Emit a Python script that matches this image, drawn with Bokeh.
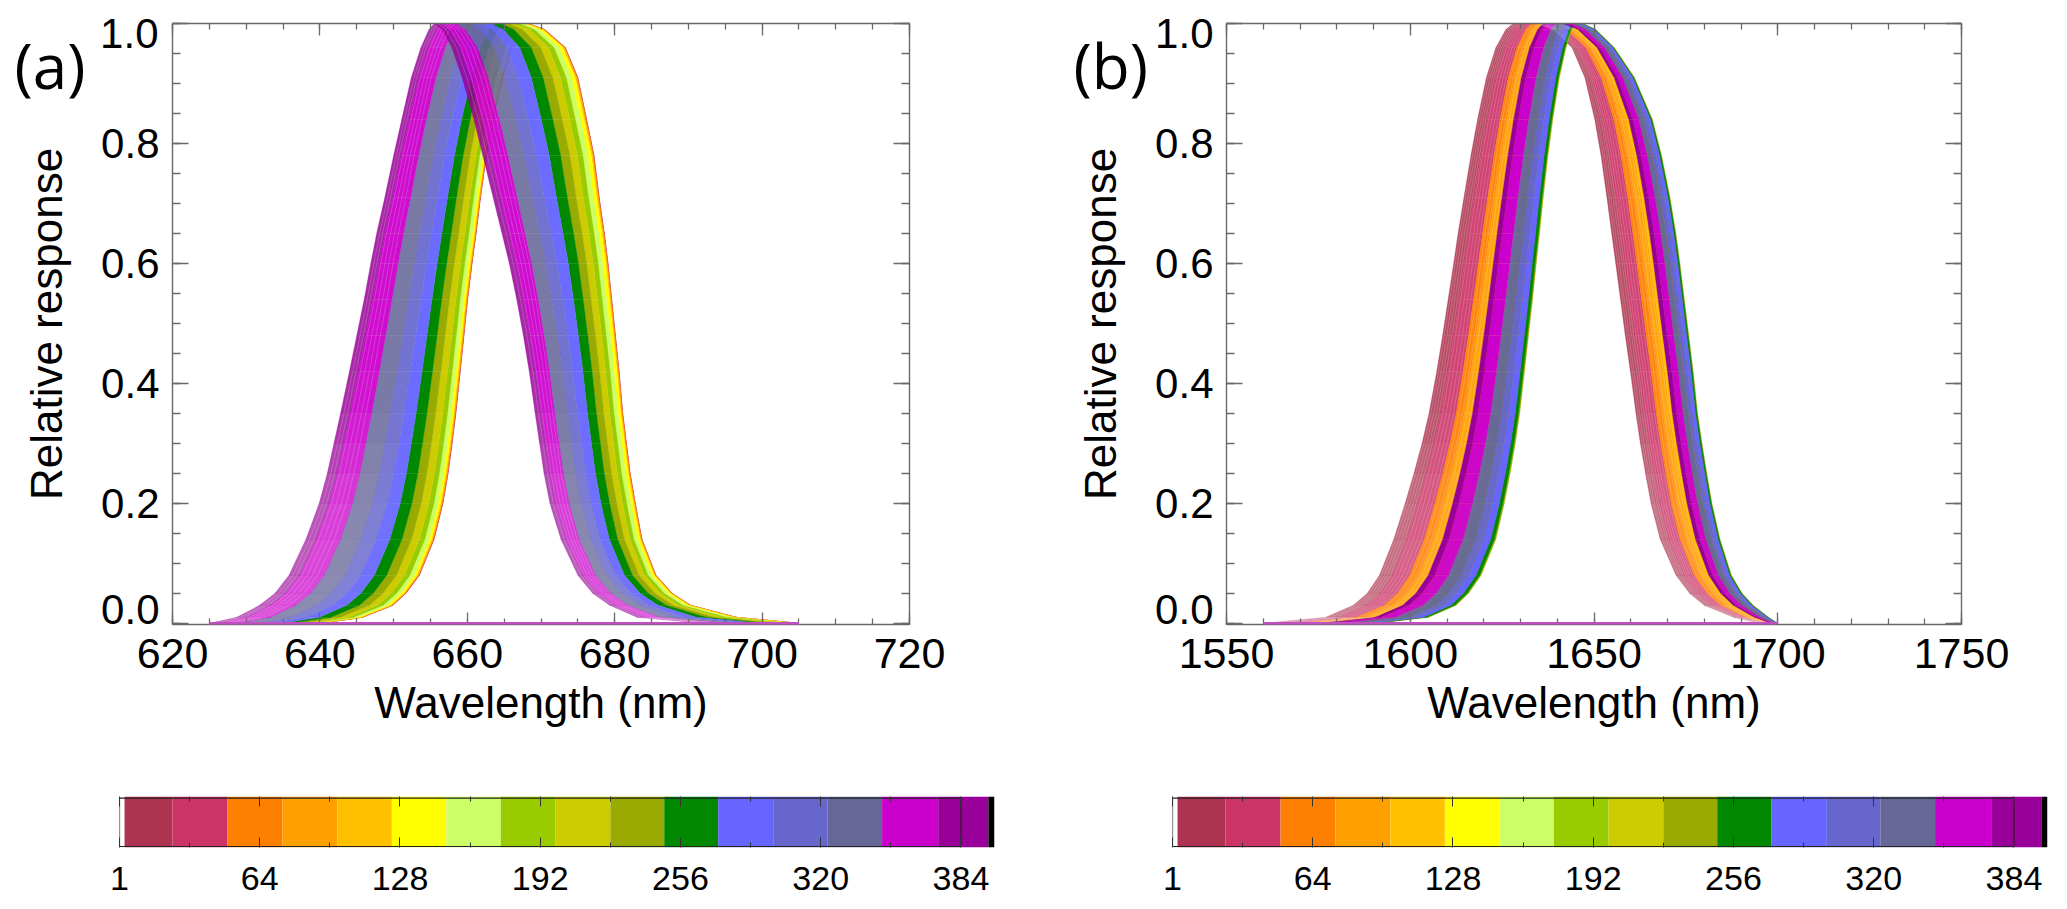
from bokeh.plotting import figure
from bokeh.models import Range1d, LinearAxis, FixedTicker, ColumnDataSource, Label
from bokeh.layouts import column, row
from bokeh.embed import file_html
from bokeh.resources import INLINE

# ---- data -----------------------------------------------------------------
levels = [0, .01, .03, .05, .08, .14, .2, .25, .3, .35, .42, .48, .54, .6, .65, .71, .78, .84, .91, .96, .99, 1]
# how densely the thin lines are packed at each level (0 = spread out, 1 = solid)
density = [0, 0, 0, .05, .1, .2, .35, .55, .75, .9, 1, 1, 1, 1, 1, 1, 1, 1, .9, .8, .7]

# Panel (a): wavelength (nm) of detector-1 curve and of last-detector curve, per response level
a_first_left = [640, 645.8, 649.9, 651.7, 653.5, 655.5, 656.7, 657.4, 657.95, 658.45, 659.05, 659.55, 660.05, 660.65, 661.2, 661.8, 662.6, 663.5, 664.8, 666, 667.3, 668.2]
a_first_right = [705, 696.5, 690.3, 687.8, 685.6, 683.7, 682.8, 682.1, 681.6, 681.1, 680.6, 680.1, 679.6, 679.1, 678.6, 677.9, 677.2, 676.2, 675, 673.3, 670.5, 668.2]
a_last_left = [625, 628.7, 631.8, 633.9, 635.8, 638.1, 639.9, 641, 641.9, 642.8, 644, 645, 646, 646.9, 647.7, 648.8, 650, 651.1, 652.4, 653.7, 654.8, 655.5]
a_last_right = [692, 683, 679.3, 677, 675, 672.7, 671.2, 670.4, 669.8, 669.2, 668.4, 667.6, 666.7, 665.7, 664.7, 663.5, 662.1, 660.9, 659.3, 657.9, 656.6, 655.5]

# Panel (b): leftmost / rightmost envelope
b_first_left = [1560, 1577, 1584.5, 1588.3, 1591.6, 1595.5, 1598.6, 1601, 1603.2, 1605.1, 1607.2, 1608.8, 1610.3, 1611.8, 1613, 1614.6, 1616.5, 1618.3, 1620.7, 1623.3, 1626, 1628]
b_first_right = [1695, 1688, 1680, 1676, 1672.3, 1668, 1665.5, 1664, 1662.6, 1661.4, 1659.9, 1658.5, 1657.2, 1655.9, 1654.8, 1653.5, 1651.9, 1650.2, 1647.5, 1644, 1638.5, 1634]
b_last_left = [1591, 1605, 1612.5, 1615.9, 1619.3, 1623.3, 1625.6, 1627.2, 1628.6, 1629.8, 1631.1, 1632.2, 1633.3, 1634.3, 1635.2, 1636.2, 1637.5, 1638.8, 1640.6, 1642.4, 1644, 1645]
b_last_right = [1700, 1697.5, 1693.3, 1690.3, 1687.4, 1684.3, 1682.1, 1680.7, 1679.4, 1678.2, 1677, 1675.8, 1674.6, 1673.4, 1672.3, 1670.7, 1668.4, 1665.9, 1661, 1655.5, 1650.5, 1647]

# Sixteen detector groups, in draw order
band_colors = ["#AE3350", "#CC3366", "#FF7F00", "#FF9F00", "#FFC000", "#FFFF00", "#CCFF66", "#99CC00", "#CCCC00", "#99AA00", "#008800", "#6666FF", "#6666CC", "#666699", "#CC00CC", "#990099"]

# Where each group sits between the first and last curve (start, end)
a_left_start = [0, .002, .004, .008, .012, .02, .04, .072, .114, .175, .25, .345, .45, .572, .73, .917]
a_left_end = [.002, .004, .008, .012, .02, .04, .072, .114, .175, .25, .345, .45, .572, .73, .917, 1]
a_right_start = [0, .002, .004, .008, .014, .024, .055, .10, .15, .217, .30, .403, .518, .632, .775, .93]
a_right_end = [.002, .004, .008, .014, .024, .055, .10, .15, .217, .30, .403, .518, .632, .775, .93, 1]

b_left_start = [0, .13, .30, .39, .48, .55, .62, .72, .82, .92, .95, .88, .80, .68, .54, .48]
b_left_end = [.13, .30, .39, .48, .55, .62, .72, .82, .92, 1, .985, .95, .88, .80, .68, .54]
b_right_start = [0, .14, .33, .44, .55, .60, .66, .74, .84, .93, .965, .91, .85, .76, .66, .59]
b_right_end = [.14, .33, .44, .55, .60, .66, .74, .84, .93, 1, .99, .965, .91, .85, .76, .66]

# Apparent density of the thin lines of each group
a_alpha_high = [1, 1, 1, 1, 1, 1, 1, 1, 1, 1, 1, .97, .92, .88, .95, .85]
a_alpha_low = [1, 1, 1, 1, 1, 1, 1, 1, 1, 1, 1, .92, .82, .75, .7, .62]
b_alpha_high = [.88, .92, .95, .95, 1, 1, 1, 1, 1, 1, 1, 1, 1, .97, 1, 1]
b_alpha_low = [.68, .76, .85, .88, 1, 1, 1, 1, 1, 1, 1, 1, .95, .95, .95, 1]

# Places where white shows between the thin lines (fraction between first and last curve)
a_gaps_left = [.78, .82, .86, .90, .94, .97]
a_gaps_right = [.80, .84, .88, .92, .96]
b_gaps_left = [.02, .05, .08, .11, .15, .19, .23, .27, .33, .37, .42, .46]
b_gaps_right = [.03, .06, .10, .13, .17, .21, .25, .30, .37, .42, .47, .52]

# Colour bar
cb_edges = [2.3, 24.2, 49.3, 74.4, 99.4, 124.3, 149.2, 174, 199, 224, 248.6, 273.2, 298.6, 323, 348, 373.6, 396.5, 399.3]
cb_colors = ["#AE3350", "#CC3366", "#FF7F00", "#FF9F00", "#FFC000", "#FFFF00", "#CCFF66", "#99CC00", "#CCCC00", "#99AA00", "#008800", "#6666FF", "#6666CC", "#666699", "#CC00CC", "#990099", "#000000"]
cb_ticks = [0, 64, 128, 192, 256, 320, 384]
cb_tick_labels = ["1", "64", "128", "192", "256", "320", "384"]

y_major = [0, .2, .4, .6, .8, 1.0]
a_x_major = [620, 640, 660, 680, 700, 720]
b_x_major = [1550, 1600, 1650, 1700, 1750]

SPINE = "#6a6a6a"
FONT = "Liberation Sans"
TOP_H = 796


def along(first, last, f):
    return [a + f * (b - a) for a, b in zip(first, last)]


def style_tick(ax, maj, mnr):
    ax.major_tick_in = maj
    ax.major_tick_out = 0
    ax.minor_tick_in = mnr
    ax.minor_tick_out = 0
    ax.major_tick_line_color = SPINE
    ax.minor_tick_line_color = SPINE
    ax.major_tick_line_width = 1.3
    ax.minor_tick_line_width = 1.3
    ax.axis_line_color = SPINE
    ax.axis_line_width = 1.4


def panel(xr, xmaj, xmin, data, gaps, zero_span, width, left, right, letter, letter_x, one_x):
    p = figure(width=width, height=TOP_H, output_backend="svg", toolbar_location=None,
               x_range=Range1d(*xr), y_range=Range1d(-0.002, 1.0),
               x_axis_type=None, y_axis_type=None,
               min_border_left=left, min_border_right=right, min_border_top=23, min_border_bottom=172)
    p.grid.visible = False
    p.outline_line_color = None
    first_l, first_r, last_l, last_r, ls, le, rs, re, ah, al = data
    for i, col in enumerate(band_colors):
        for first, last, s, e in ((first_l, last_l, ls, le), (first_r, last_r, rs, re)):
            x0 = along(first, last, s[i])
            x1 = along(first, last, e[i])
            xs, ys, alphas = [], [], []
            for k in range(len(levels) - 1):
                xs.append([x0[k], x0[k + 1], x1[k + 1], x1[k]])
                ys.append([levels[k], levels[k + 1], levels[k + 1], levels[k]])
                alphas.append(al[i] + (ah[i] - al[i]) * density[k])
            p.patches(xs, ys, fill_color=col, fill_alpha=alphas, line_color=col, line_alpha=alphas, line_width=0.3)
    for first, last, fr in ((first_l, last_l, gaps[0]), (first_r, last_r, gaps[1])):
        for f in fr:
            p.line(along(first, last, f), levels, line_color="white", line_width=0.6, line_alpha=0.3)
    p.line(zero_span, [0, 0], line_color="#C050C0", line_width=2.4, level="overlay")

    xb = LinearAxis(axis_label="Wavelength (nm)", axis_label_text_font=FONT, axis_label_text_font_size="44px",
                    axis_label_text_font_style="normal", axis_label_text_color="black", axis_label_standoff=7,
                    major_label_text_font=FONT, major_label_text_font_size="43px", major_label_text_color="black",
                    major_label_standoff=14)
    xb.ticker = FixedTicker(ticks=xmaj, minor_ticks=xmin)
    style_tick(xb, 12, 6)
    p.add_layout(xb, "below")

    yl = LinearAxis(axis_label="Relative response", axis_label_text_font=FONT, axis_label_text_font_size="44px",
                    axis_label_text_font_style="normal", axis_label_text_color="black", axis_label_standoff=27,
                    major_label_text_font=FONT, major_label_text_font_size="42px", major_label_text_color="black",
                    major_label_standoff=13, major_label_text_line_height=0.6)
    yl.ticker = FixedTicker(ticks=y_major, minor_ticks=[round(v * .05, 2) for v in range(21)])
    yl.major_label_overrides = {0: "0.0\n\u00a0", 1: " ", 0.2: "0.2", 0.4: "0.4", 0.6: "0.6", 0.8: "0.8"}
    style_tick(yl, 16, 8)
    p.add_layout(yl, "left")

    for loc, ticks, minor, maj, mnr in (("above", xmaj, xmin, 12, 6),
                                        ("right", y_major, [round(v * .05, 2) for v in range(21)], 16, 8)):
        ax = LinearAxis(major_label_text_font_size="0px", major_label_standoff=0,
                        major_label_overrides={t: " " for t in ticks})
        ax.ticker = FixedTicker(ticks=ticks, minor_ticks=minor)
        style_tick(ax, maj, mnr)
        p.add_layout(ax, loc)

    p.add_layout(Label(x=letter_x, y=560, x_units="screen", y_units="screen", text=letter, text_font="Open Sans",
                       text_font_size="62px", text_color="black", text_align="left", text_baseline="alphabetic"), "right")
    p.add_layout(Label(x=one_x, y=725, x_units="screen", y_units="screen", text="1.0", text_font=FONT,
                       text_font_size="42px", text_color="black", text_align="right", text_baseline="alphabetic"), "below")
    return p


def colorbar(width, left, right):
    p = figure(width=width, height=109, output_backend="svg", toolbar_location=None,
               x_range=Range1d(0, 399.3), y_range=Range1d(0, 1),
               x_axis_type=None, y_axis_type=None,
               min_border_left=left, min_border_right=right, min_border_top=0, min_border_bottom=58)
    p.grid.visible = False
    p.outline_line_color = None
    src = ColumnDataSource(dict(left=cb_edges[:-1], right=cb_edges[1:], color=cb_colors))
    p.quad(left="left", right="right", bottom=0, top=1, fill_color="color", line_color=None, source=src)
    p.line([0, 384, 384, 0, 0], [.02, .02, .97, .97, .02], line_color="#222222", line_width=1.2)
    ax = LinearAxis(major_label_text_font=FONT, major_label_text_font_size="34px", major_label_text_color="black",
                    major_label_standoff=19, axis_line_color=None,
                    major_label_overrides={t: l for t, l in zip(cb_ticks, cb_tick_labels)})
    ax.ticker = FixedTicker(ticks=cb_ticks, minor_ticks=[32, 96, 160, 224, 288, 352])
    ax.major_tick_in = 10; ax.major_tick_out = 0; ax.minor_tick_in = 5; ax.minor_tick_out = 0
    ax.major_tick_line_color = "#333333"; ax.minor_tick_line_color = "#333333"
    p.add_layout(ax, "below")
    top = LinearAxis(major_label_text_font_size="0px", major_label_standoff=0, axis_line_color=None,
                     major_label_overrides={t: " " for t in cb_ticks})
    top.ticker = FixedTicker(ticks=cb_ticks, minor_ticks=[32, 96, 160, 224, 288, 352])
    top.major_tick_in = 10; top.major_tick_out = 0; top.minor_tick_in = 5; top.minor_tick_out = 0
    top.major_tick_line_color = "#333333"; top.minor_tick_line_color = "#333333"
    p.add_layout(top, "above")
    return p


a_data = (a_first_left, a_first_right, a_last_left, a_last_right, a_left_start, a_left_end, a_right_start, a_right_end, a_alpha_high, a_alpha_low)
b_data = (b_first_left, b_first_right, b_last_left, b_last_right, b_left_start, b_left_end, b_right_start, b_right_end, b_alpha_high, b_alpha_low)

pa = panel((620, 720), a_x_major, list(range(620, 721, 5)), a_data, (a_gaps_left, a_gaps_right), [625, 705], 1060, 172, 151, "(a)", -895, -14)
pb = panel((1550, 1750), b_x_major, list(range(1550, 1751, 10)), b_data, (b_gaps_left, b_gaps_right), [1560, 1700], 1001, 166, 100, "(b)", -888, -13)
ca = colorbar(1060, 119, 66)
cb = colorbar(1001, 112, 14)

page = column(row(pa, pb), row(ca, cb))
open("out.html", "w").write(file_html(page, INLINE))
